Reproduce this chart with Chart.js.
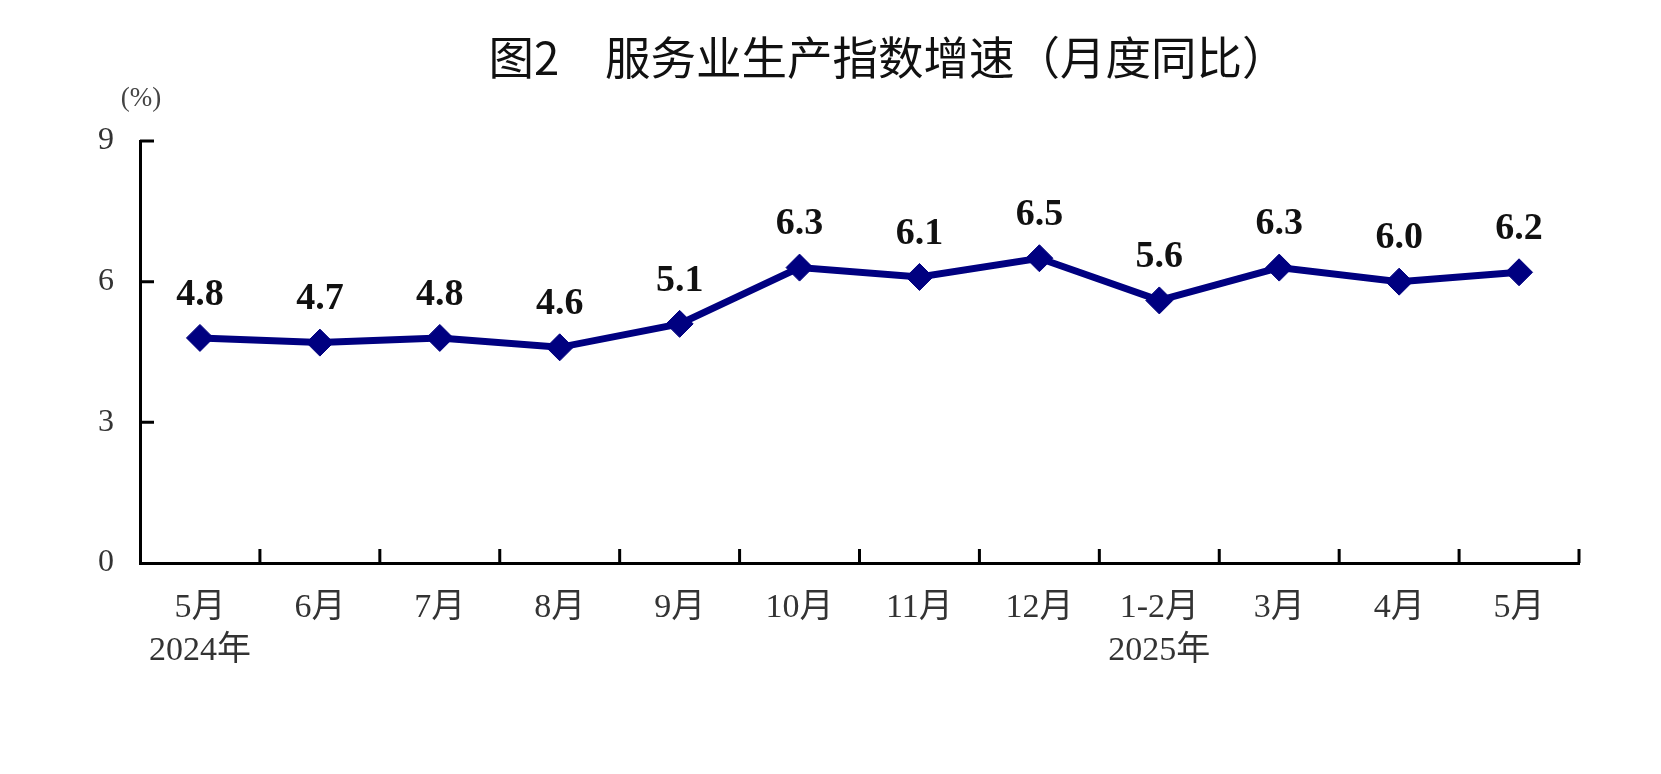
<!DOCTYPE html>
<html>
<head>
<meta charset="utf-8">
<script src="https://cdn.jsdelivr.net/npm/chart.js@4/dist/chart.umd.min.js"></script>
<style>
body { margin: 0; background: #fff; }
#wrap { width: 1661px; height: 774px; }
</style>
</head>
<body>
<div id="wrap"><canvas id="svcIndex"></canvas></div>
<script>
var chartTitle = '图2　服务业生产指数增速（月度同比）';
var unitLabel = '(%)';
var months = [['5月', '2024年'], '6月', '7月', '8月', '9月', '10月', '11月', '12月', ['1-2月', '2025年'], '3月', '4月', '5月'];
var growth = [4.8, 4.7, 4.8, 4.6, 5.1, 6.3, 6.1, 6.5, 5.6, 6.3, 6.0, 6.2];
var yTicks = [0, 3, 6, 9];

var serif = '"Liberation Serif", "Noto Sans CJK SC", serif';
var navy = '#000080';

// ticks point inward, labels sit over the points, title is off-centre
var extras = {
    id: 'extras',
    afterDatasetsDraw: function (chart) {
        var ctx = chart.ctx;
        var meta = chart.getDatasetMeta(0);
        ctx.save();
        ctx.fillStyle = '#111';
        ctx.font = 'bold 38px ' + serif;
        ctx.textAlign = 'center';
        ctx.textBaseline = 'middle';
        meta.data.forEach(function (pt, i) {
            ctx.fillText(growth[i].toFixed(1), pt.x, pt.y - 43);
        });
        ctx.restore();
    },
    afterDraw: function (chart) {
        var ctx = chart.ctx;
        var area = chart.chartArea;
        var x = chart.scales.x;
        var y = chart.scales.y;
        ctx.save();
        ctx.strokeStyle = '#000';
        ctx.lineWidth = 3;
        ctx.beginPath();
        for (var i = 1; i <= months.length; i++) {
            var px = i < months.length
                ? (x.getPixelForValue(i - 1) + x.getPixelForValue(i)) / 2
                : area.right;
            ctx.moveTo(px, area.bottom);
            ctx.lineTo(px, area.bottom - 14);
        }
        yTicks.forEach(function (v) {
            if (!v) return;
            var py = y.getPixelForValue(v);
            ctx.moveTo(area.left, py);
            ctx.lineTo(area.left + 14, py);
        });
        ctx.stroke();

        ctx.fillStyle = '#111';
        ctx.font = '45.5px "Noto Sans CJK SC", sans-serif';
        ctx.textAlign = 'center';
        ctx.textBaseline = 'middle';
        ctx.fillText(chartTitle, 888, 58);

        ctx.fillStyle = '#444';
        ctx.font = '27px ' + serif;
        ctx.fillText(unitLabel, 141, 99);
        ctx.restore();
    }
};

var svc = new Chart(document.getElementById('svcIndex').getContext('2d'), {
    type: 'line',
    data: {
        labels: months,
        datasets: [{
            data: growth,
            borderColor: navy,
            backgroundColor: navy,
            borderWidth: 7,
            tension: 0,
            pointStyle: 'rectRot',
            pointRadius: 13.5,
            pointBorderWidth: 1,
            pointBackgroundColor: navy,
            pointBorderColor: navy,
            clip: false
        }]
    },
    options: {
        responsive: true,
        maintainAspectRatio: false,
        animation: false,
        events: [],
        layout: {
            padding: { left: 0, right: 82, top: 141, bottom: 0 }
        },
        plugins: {
            legend: { display: false },
            tooltip: { enabled: false },
            title: { display: false }
        },
        scales: {
            x: {
                offset: true,
                grid: { display: false, drawTicks: false },
                border: { display: true, color: '#000', width: 3 },
                ticks: {
                    autoSkip: false,
                    maxRotation: 0,
                    padding: 23,
                    color: '#333',
                    font: { family: serif, size: 34, lineHeight: 1.27 }
                },
                afterFit: function (scale) { scale.height = 211; }
            },
            y: {
                min: 0,
                max: 9,
                afterBuildTicks: function (scale) {
                    scale.ticks = yTicks.map(function (v) { return { value: v }; });
                },
                grid: { display: false, drawTicks: false },
                border: { display: true, color: '#000', width: 3 },
                ticks: {
                    padding: 26,
                    color: '#333',
                    font: { family: serif, size: 32 }
                },
                afterFit: function (scale) { scale.width = 140; }
            }
        }
    },
    plugins: [extras]
});
</script>
</body>
</html>
